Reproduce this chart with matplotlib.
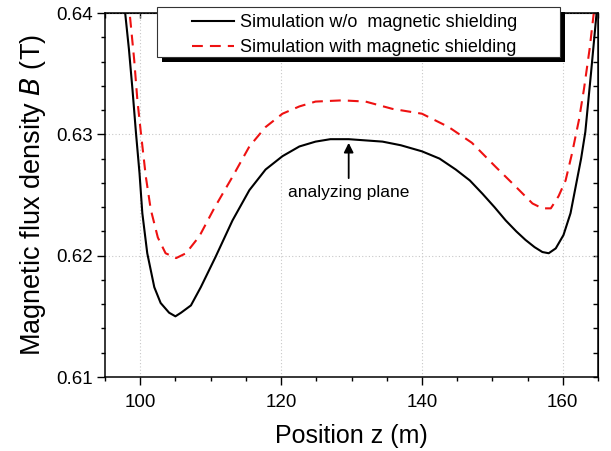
import matplotlib
matplotlib.use("Agg")
import matplotlib.pyplot as plt
from matplotlib.patches import Rectangle
from matplotlib.ticker import MultipleLocator, FormatStrFormatter

plt.rcParams['font.family'] = ['Liberation Sans', 'DejaVu Sans']

# field along the beam axis, no shielding
z_bare = [97.6, 97.9, 98.4, 98.9, 99.4, 99.9, 100.3, 101.0, 102.0, 102.9,
          104.1, 105.0, 105.8, 107.2, 108.6, 110.7, 113.1, 115.5, 117.8, 120.2,
          122.6, 124.9, 127.0, 129.6, 132.0, 134.4, 137.0, 140.0, 142.5, 144.8,
          146.8, 148.6, 150.3, 151.9, 153.4, 154.7, 156.0, 157.1, 158.0, 159.0,
          160.1, 161.1, 162.0, 162.6, 163.2, 164.0, 164.8, 165.2]
b_bare = [0.6415, 0.6398, 0.6370, 0.6337, 0.6301, 0.6268, 0.6235, 0.6202, 0.6174, 0.6161,
          0.6153, 0.6150, 0.6153, 0.6159, 0.6174, 0.6199, 0.6229, 0.6254, 0.6271, 0.6282,
          0.6290, 0.6294, 0.6296, 0.6296, 0.6295, 0.6294, 0.6291, 0.6286, 0.6280, 0.6271,
          0.6262, 0.6251, 0.6240, 0.6229, 0.6220, 0.6213, 0.6207, 0.6203, 0.6202, 0.6206,
          0.6217, 0.6235, 0.6262, 0.6280, 0.6302, 0.6350, 0.6400, 0.6425]

# field with the magnetic shield in place
z_shield = [98.2, 98.5, 99.15, 99.6, 100.1, 100.8, 101.5, 102.5, 103.6, 105.1,
            106.5, 108.4, 110.5, 113.1, 115.5, 117.8, 120.2, 122.6, 124.9, 128.7,
            132.0, 135.8, 140.0, 143.8, 147.1, 150.5, 153.3, 155.7, 157.1, 158.3,
            159.4, 160.4, 161.3, 162.3, 163.0, 163.8, 164.4, 164.8]
b_shield = [0.6420, 0.6400, 0.6361, 0.6328, 0.6301, 0.6265, 0.6238, 0.6215, 0.6202, 0.6198,
            0.6202, 0.6216, 0.6239, 0.6265, 0.6290, 0.6306, 0.6317, 0.6323, 0.6327, 0.6328,
            0.6327, 0.6321, 0.6317, 0.6306, 0.6293, 0.6273, 0.6257, 0.6243, 0.6239, 0.6239,
            0.6249, 0.6262, 0.6284, 0.6312, 0.6337, 0.6370, 0.6400, 0.6420]

labels = ['Simulation w/o  magnetic shielding', 'Simulation with magnetic shielding']
plane_z = 129.6
plane_b = 0.6296

W, H = 611, 451
fig = plt.figure(figsize=(W / 100, H / 100), dpi=100)
ax = fig.add_axes([105 / W, 1 - 377 / H, 493 / W, 364 / H])

l1, = ax.plot(z_bare, b_bare, color='black', lw=1.5)
l2, = ax.plot(z_shield, b_shield, color='#ee1111', lw=1.5, dashes=(5.2, 3.4))

ax.set_xlim(95, 165)
ax.set_ylim(0.61, 0.64)
ax.xaxis.set_major_locator(MultipleLocator(20))
ax.xaxis.set_minor_locator(MultipleLocator(5))
ax.yaxis.set_major_locator(MultipleLocator(0.01))
ax.yaxis.set_minor_locator(MultipleLocator(0.002))
ax.yaxis.set_major_formatter(FormatStrFormatter('%.2f'))
ax.grid(True, which='major', color='#c8c8c8', ls=(0, (1, 2)), lw=0.8)

ax.tick_params(which='both', direction='out', labelsize=13.5, width=1)
ax.tick_params(which='major', length=5.5)
ax.tick_params(which='minor', length=3)
ax.tick_params(axis='x', which='major', pad=7)
ax.tick_params(axis='y', which='major', pad=3)
for side in ax.spines.values():
    side.set_linewidth(1.1)

# mirrored ticks on the top and right frame
top = ax.secondary_xaxis('top')
top.xaxis.set_major_locator(MultipleLocator(20))
top.xaxis.set_minor_locator(MultipleLocator(5))
top.tick_params(which='both', direction='in', labeltop=False, length=3.5, width=1)
right = ax.secondary_yaxis('right')
right.yaxis.set_major_locator(MultipleLocator(0.01))
right.yaxis.set_minor_locator(MultipleLocator(0.002))
right.tick_params(which='both', direction='in', labelright=False, length=3.5, width=1)

ax.set_xlabel('Position z (m)', fontsize=18, labelpad=9)
ax.set_ylabel('Magnetic flux density $\\mathit{B}$ (T)', fontsize=19.5, labelpad=6)

ax.annotate('analyzing plane', xy=(plane_z, plane_b - 0.0003), xytext=(plane_z, 0.6252),
            ha='center', va='center', fontsize=12.5,
            arrowprops=dict(arrowstyle='-|>', color='black', lw=1.3,
                            mutation_scale=14, shrinkA=3, shrinkB=0))

# legend box with a solid drop shadow
fig.patches.append(Rectangle((162 / W, 1 - 62 / H), 403 / W, 50 / H,
                             transform=fig.transFigure, facecolor='black',
                             edgecolor='none', zorder=3))
fig.patches.append(Rectangle((157 / W, 1 - 57 / H), 403 / W, 50 / H,
                             transform=fig.transFigure, facecolor='white',
                             edgecolor='#333333', lw=0.8, zorder=4))
fig.legend([l1, l2], labels, loc='upper left', bbox_to_anchor=(192 / W, 1 - 14 / H),
           frameon=False, fontsize=13, handlelength=2.3, handletextpad=0.35,
           borderpad=0, borderaxespad=0, labelspacing=0.45)

fig.savefig('out.png', dpi=100)
